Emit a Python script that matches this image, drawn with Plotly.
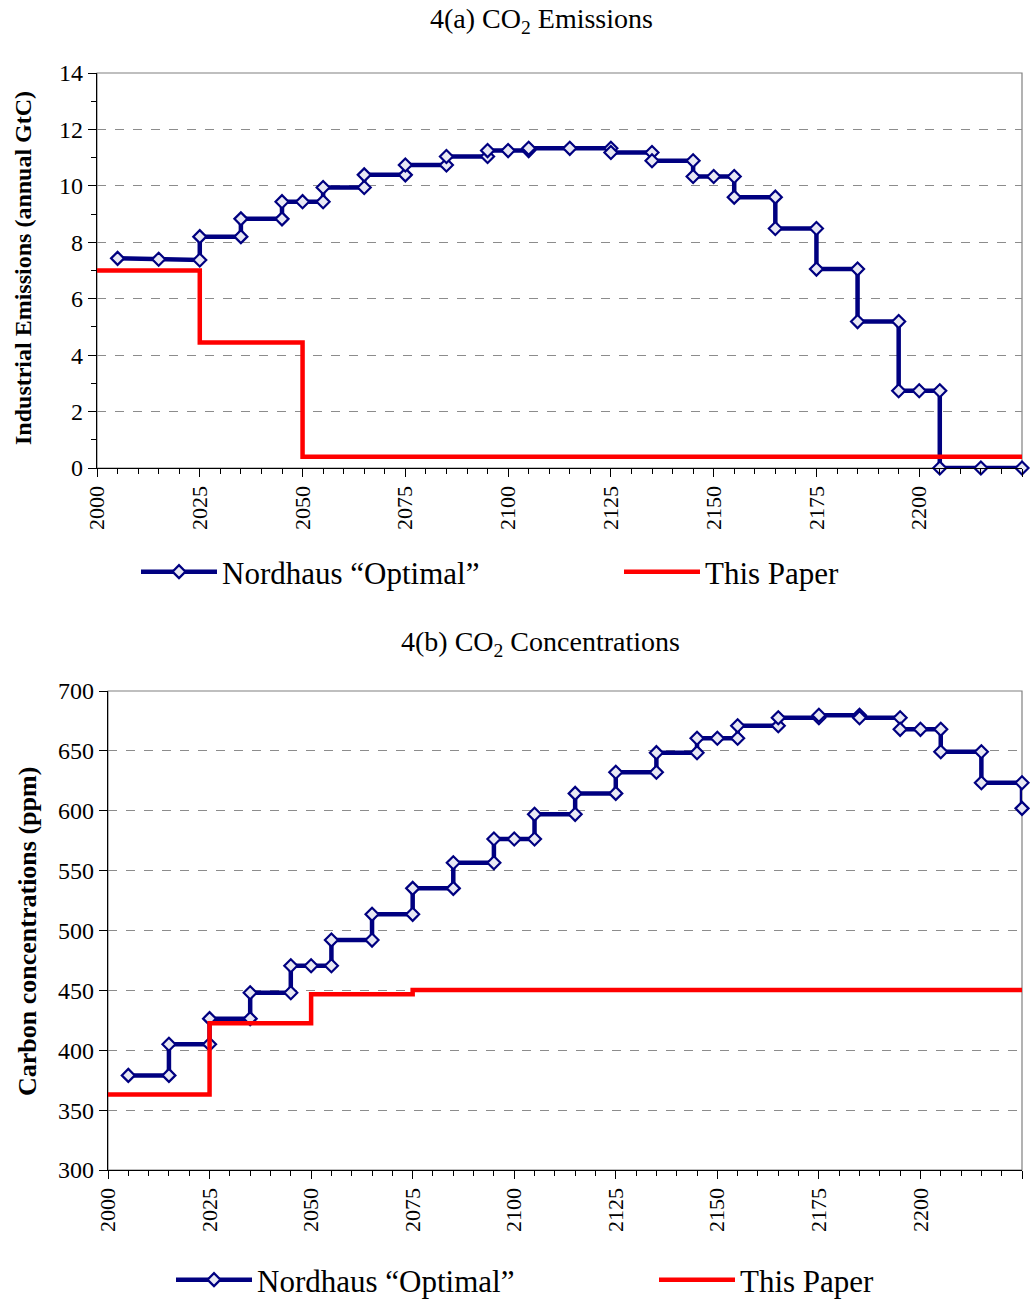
import plotly.graph_objects as go

W, H = 1034, 1299

# ---------------- Panel 4(a): industrial CO2 emissions (annual GtC) ----------------
nord_em_years = [2005, 2015, 2025, 2025, 2035, 2035, 2045, 2045, 2050, 2055,
                 2055, 2065, 2065, 2075, 2075, 2085, 2085, 2095, 2095, 2100,
                 2105, 2105, 2115, 2125, 2125, 2135, 2135, 2145, 2145, 2150,
                 2155, 2155, 2165, 2165, 2175, 2175, 2185, 2185, 2195, 2195,
                 2200, 2205, 2205, 2215, 2225]
nord_em_values = [7.43, 7.40, 7.37, 8.20, 8.20, 8.83, 8.83, 9.44, 9.44, 9.44,
                  9.94, 9.94, 10.39, 10.39, 10.74, 10.74, 11.04, 11.04, 11.25, 11.25,
                  11.25, 11.33, 11.33, 11.33, 11.18, 11.18, 10.89, 10.89, 10.33, 10.33,
                  10.33, 9.60, 9.60, 8.49, 8.49, 7.05, 7.05, 5.19, 5.19, 2.74,
                  2.74, 2.74, 0.0, 0.0, 0.0]
paper_em_years = [2000, 2025, 2050, 2225]
paper_em_values = [7.0, 4.45, 0.4, 0.4]

# ---------------- Panel 4(b): CO2 concentrations (ppm) ----------------
nord_conc_years = [2005, 2015, 2015, 2025, 2025, 2035, 2035, 2045, 2045, 2050,
                   2055, 2055, 2065, 2065, 2075, 2075, 2085, 2085, 2095, 2095,
                   2100, 2105, 2105, 2115, 2115, 2125, 2125, 2135, 2135, 2145,
                   2145, 2150, 2155, 2155, 2165, 2165, 2175, 2175, 2185, 2185,
                   2195, 2195, 2200, 2205, 2205, 2215, 2215, 2225, 2225]
nord_conc_values = [379, 379, 405, 405, 426.4, 426.4, 448, 448, 470.6, 470.6,
                    470.6, 492, 492, 513.5, 513.5, 535.2, 535.2, 556.6, 556.6, 576.4,
                    576.4, 576.4, 597, 597, 614.5, 614.5, 632.1, 632.1, 648.5, 648.5,
                    660.5, 660.5, 660.5, 671, 671, 677.7, 677.7, 679.7, 679.7, 677.7,
                    677.7, 668, 668, 668, 649.3, 649.3, 623.4, 623.4, 602]
paper_conc_years = [2000, 2025, 2050, 2075, 2225]
paper_conc_values = [363, 422.5, 446.7, 450.3, 450.3]

series_names = ["Nordhaus \u201cOptimal\u201d", "This Paper"]
panel_titles = ["4(a) CO<sub>2</sub> Emissions", "4(b) CO<sub>2</sub> Concentrations"]
y_titles = ["Industrial Emissions (annual GtC)", "Carbon concentrations (ppm)"]

NAVY = "#000080"
RED = "#FF0000"
GRID = "#8c8c8c"
SERIF = "Liberation Serif"

fig = go.Figure()

def add_panel(xs_n, ys_n, xs_p, ys_p, xa, ya, leg):
    fig.add_trace(go.Scatter(
        x=xs_n, y=ys_n, name=series_names[0], mode="lines+markers",
        line=dict(color=NAVY, width=4.5),
        marker=dict(symbol="diamond", size=10, color="#e8e8f4",
                    line=dict(color=NAVY, width=2.2)),
        xaxis=xa, yaxis=ya, legend=leg, legendwidth=392, cliponaxis=False))
    fig.add_trace(go.Scatter(
        x=xs_p, y=ys_p, name=series_names[1], mode="lines",
        line=dict(color=RED, width=4.5, shape="hv"),
        xaxis=xa, yaxis=ya, legend=leg, legendwidth=160, cliponaxis=False))

add_panel(nord_em_years, nord_em_values, paper_em_years, paper_em_values, "x", "y", "legend")
add_panel(nord_conc_years, nord_conc_values, paper_conc_years, paper_conc_values, "x2", "y2", "legend2")

def px_x(p):
    return p / W

def px_y(p):
    return 1 - p / H

xcommon = dict(
    range=[2000, 2225], tick0=2000, dtick=25, tickangle=-90,
    ticks="outside", ticklen=8, tickcolor="black", tickwidth=1,
    showline=True, linecolor="black", linewidth=1.2,
    showgrid=False, zeroline=False,
    tickfont=dict(family=SERIF, size=22, color="black"),
    minor=dict(dtick=5, tick0=2000, ticks="outside", ticklen=5,
               tickcolor="black", tickwidth=1, showgrid=False),
)
ycommon = dict(
    ticks="outside", ticklen=8, tickcolor="black", tickwidth=1,
    showline=True, linecolor="black", linewidth=1.2,
    showgrid=True, gridcolor=GRID, griddash="dash", gridwidth=1,
    zeroline=False,
    tickfont=dict(family=SERIF, size=24, color="black"),
)

legcommon = dict(orientation="h", xanchor="left", yanchor="middle",
                 font=dict(family=SERIF, size=31, color="black"),
                 bgcolor="rgba(0,0,0,0)", itemwidth=76)

fig.update_layout(
    width=W, height=H, autosize=False,
    margin=dict(l=0, r=0, t=0, b=0, pad=0, autoexpand=False),
    paper_bgcolor="white", plot_bgcolor="white",
    font=dict(family=SERIF, color="black"),
    xaxis=dict(domain=[px_x(97), px_x(1022)], anchor="y", **xcommon),
    yaxis=dict(domain=[px_y(468), px_y(73)], anchor="x", range=[0, 14], dtick=2,
               minor=dict(dtick=1, ticks="outside", ticklen=5, tickcolor="black",
                          showgrid=False),
               **ycommon),
    xaxis2=dict(domain=[px_x(108), px_x(1022)], anchor="y2", **xcommon),
    yaxis2=dict(domain=[px_y(1170), px_y(691)], anchor="x2", range=[300, 700], dtick=50,
                **ycommon),
    legend=dict(x=px_x(136), y=px_y(572), **legcommon),
    legend2=dict(x=px_x(171), y=px_y(1280), **legcommon),
    showlegend=True,
)

# grey plot-area frame (top/right edges), axes drawn in black on top
for xr, yr in (("x domain", "y domain"), ("x2 domain", "y2 domain")):
    fig.add_shape(type="rect", xref=xr, yref=yr, x0=0, x1=1, y0=0, y1=1,
                  line=dict(color="#808080", width=1.2), layer="below")

# panel titles
fig.add_annotation(text=panel_titles[0], xref="paper", yref="paper",
                   x=px_x(541), y=px_y(20), xanchor="center", yanchor="middle",
                   showarrow=False, font=dict(family=SERIF, size=28, color="black"))
fig.add_annotation(text=panel_titles[1], xref="paper", yref="paper",
                   x=px_x(540), y=px_y(643), xanchor="center", yanchor="middle",
                   showarrow=False, font=dict(family=SERIF, size=28, color="black"))
# y-axis titles
fig.add_annotation(text="<b>" + y_titles[0] + "</b>", xref="paper", yref="paper",
                   x=px_x(23), y=px_y(268), xanchor="center", yanchor="middle",
                   showarrow=False, textangle=-90,
                   font=dict(family=SERIF, size=24, color="black"))
fig.add_annotation(text="<b>" + y_titles[1] + "</b>", xref="paper", yref="paper",
                   x=px_x(27), y=px_y(932), xanchor="center", yanchor="middle",
                   showarrow=False, textangle=-90,
                   font=dict(family=SERIF, size=26, color="black"))

fig.write_html("out.html", config={"displayModeBar": False},
               post_script="document.body.style.margin='0';")
